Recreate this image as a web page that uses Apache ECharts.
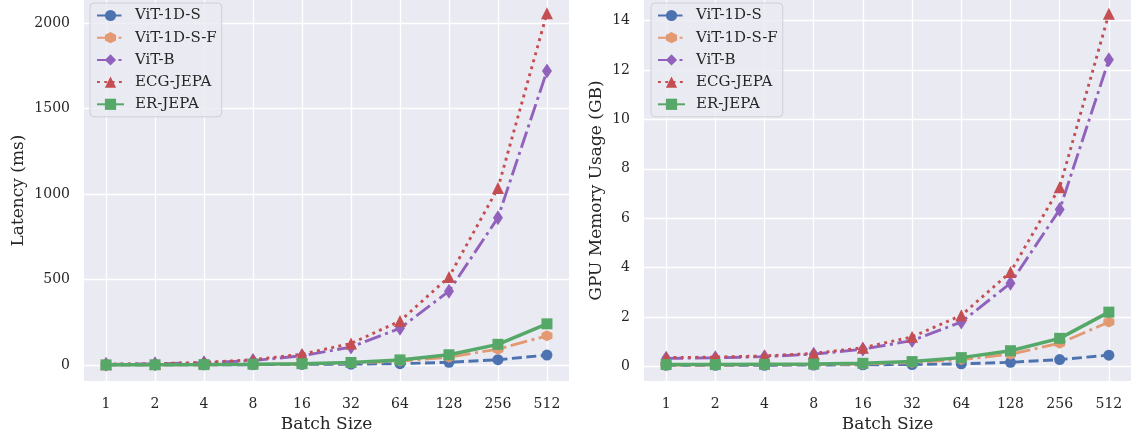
<!DOCTYPE html>
<html>
<head>
<meta charset="utf-8">
<script src="https://cdn.jsdelivr.net/npm/echarts@6/dist/echarts.min.js"></script>
<style>
html,body{margin:0;padding:0;background:#fff;}
#c{width:1131px;height:438px;}
</style>
</head>
<body>
<div id="c"></div>
<script>
const batchSizes = ['1','2','4','8','16','32','64','128','256','512'];
const seriesNames = ['ViT-1D-S','ViT-1D-S-F','ViT-B','ECG-JEPA','ER-JEPA'];

// Latency (ms)
const latViT1DS  = [0.6, 0.8, 1.2, 2, 3.5, 5, 8, 16, 31, 58];
const latViT1DSF = [0.8, 1.1, 1.6, 3, 6, 12, 23, 46, 93, 171];
const latViTB    = [4, 7, 13, 26, 54, 105, 215, 432, 862, 1720];
const latECG     = [5, 8, 15, 31, 63, 126, 257, 515, 1035, 2058];
const latER      = [1, 1.5, 2.5, 4.5, 8, 15, 30, 60, 121, 241];

// GPU memory (GB)
const memViT1DS  = [0.05, 0.05, 0.05, 0.06, 0.07, 0.08, 0.11, 0.17, 0.28, 0.46];
const memViT1DSF = [0.06, 0.06, 0.07, 0.08, 0.10, 0.16, 0.28, 0.50, 0.94, 1.80];
const memViTB    = [0.33, 0.35, 0.40, 0.50, 0.70, 1.05, 1.80, 3.37, 6.35, 12.41];
const memECG     = [0.36, 0.38, 0.43, 0.53, 0.76, 1.20, 2.07, 3.82, 7.25, 14.27];
const memER      = [0.08, 0.08, 0.09, 0.10, 0.13, 0.20, 0.36, 0.64, 1.14, 2.20];

const latTicks = [0, 500, 1000, 1500, 2000];
const memTicks = [0, 2, 4, 6, 8, 10, 12, 14];

const FONT = '"DejaVu Serif", serif';
const TXT = '#262626';
const xIdx = batchSizes.map((_, i) => i);
const toPts = arr => arr.map((v, i) => [i, v]);

const styles = [
  {color:'#4C72B0', type:[10,4.5], width:2.9, symbol:'circle', size:11},
  {color:'#E39A72', type:[17,4.5,3,4.5], width:2.9, symbol:'path://M0,-10 L8.66,-5 L8.66,5 L0,10 L-8.66,5 L-8.66,-5Z', size:11},
  {color:'#9162BC', type:[17,4.5,3,4.5], width:2.9, symbol:'diamond', size:[10,15]},
  {color:'#C44E52', type:[2.9,4.4], width:2.9, symbol:'triangle', size:12},
  {color:'#55A868', type:'solid', width:3.5, symbol:'rect', size:11}
];

function mkSeries(datasets, gi) {
  return datasets.map((d, k) => ({
    name: seriesNames[k],
    type: 'line',
    xAxisIndex: gi, yAxisIndex: gi,
    data: toPts(d),
    symbol: styles[k].symbol,
    symbolSize: styles[k].size,
    showSymbol: true,
    lineStyle: {color: styles[k].color, type: styles[k].type, width: styles[k].width, cap: 'butt'},
    itemStyle: {color: styles[k].color, opacity: 1},
    emphasis: {disabled: true},
    animation: false,
    z: 2 + k
  }));
}

function xAxisDef(gi) {
  return {
    type: 'value', gridIndex: gi, min: -0.45, max: 9.45,
    name: 'Batch Size', nameLocation: 'middle', nameGap: 33,
    nameTextStyle: {fontFamily: FONT, fontSize: 17, color: TXT},
    axisLine: {show: false},
    axisTick: {show: false, customValues: xIdx},
    axisLabel: {customValues: xIdx, formatter: v => batchSizes[Math.round(v)], fontFamily: FONT, fontSize: 14, color: TXT, margin: 16},
    splitLine: {show: true, lineStyle: {color: '#ffffff', width: 1.3}}
  };
}
function yAxisDef(gi, min, max, ticks, name, gap) {
  return {
    type: 'value', gridIndex: gi, min: min, max: max,
    name: name, nameLocation: 'middle', nameGap: gap, nameRotate: 90,
    nameTextStyle: {fontFamily: FONT, fontSize: 17, color: TXT},
    axisLine: {show: false},
    axisTick: {show: false, customValues: ticks},
    axisLabel: {customValues: ticks, formatter: v => String(v), fontFamily: FONT, fontSize: 14, color: TXT, margin: 14},
    splitLine: {show: true, lineStyle: {color: '#ffffff', width: 1.3}}
  };
}
function legendDef(left) {
  return {
    data: seriesNames, orient: 'vertical', left: left, top: 3,
    itemWidth: 27, itemHeight: 14, itemGap: 7.2,
    textStyle: {fontFamily: FONT, fontSize: 15, color: TXT, lineHeight: 14, padding: [0, 0, 0, 6]},
    backgroundColor: 'rgba(234,234,242,0.8)', borderColor: '#cfcfd6', borderWidth: 1, borderRadius: 4,
    padding: [5, 5, 5, 6],
    selectedMode: false
  };
}

const chart = echarts.init(document.getElementById('c'), null, {renderer: 'canvas'});
chart.setOption({
  animation: false,
  backgroundColor: '#ffffff',
  grid: [
    {left: 84, top: 0, width: 485, height: 382, show: true, backgroundColor: '#EAEAF2', borderWidth: 0},
    {left: 644, top: 0, width: 487, height: 382, show: true, backgroundColor: '#EAEAF2', borderWidth: 0}
  ],
  xAxis: [xAxisDef(0), xAxisDef(1)],
  yAxis: [
    yAxisDef(0, -94, 2135, latTicks, 'Latency (ms)', 57),
    yAxisDef(1, -0.59, 14.83, memTicks, 'GPU Memory Usage (GB)', 39)
  ],
  legend: [legendDef(90), legendDef(651)],
  series: mkSeries([latViT1DS, latViT1DSF, latViTB, latECG, latER], 0)
    .concat(mkSeries([memViT1DS, memViT1DSF, memViTB, memECG, memER], 1))
});
</script>
</body>
</html>
